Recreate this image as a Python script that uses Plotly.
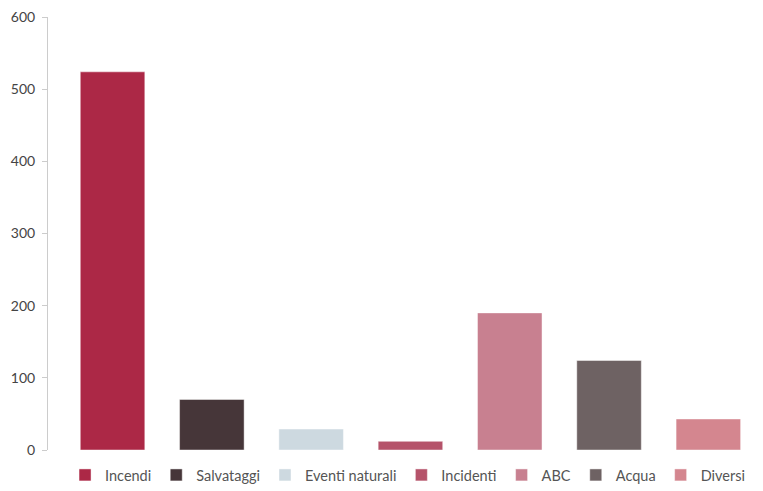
import plotly.graph_objects as go

categories = ["Incendi", "Salvataggi", "Eventi naturali", "Incidenti", "ABC", "Acqua", "Diversi"]
values = [524, 70, 29, 12, 190, 124, 43]
colors = ["#AC2846", "#463639", "#CDD9E0", "#B5536A", "#C88090", "#6E6263", "#D4868F"]
y_ticks = [0, 100, 200, 300, 400, 500, 600]

fig = go.Figure()
for cat, val, col in zip(categories, values, colors):
    fig.add_trace(go.Bar(
        x=[cat], y=[val], name=cat,
        marker=dict(color=col, line=dict(color="rgba(255,255,255,0.45)", width=1)),
        width=0.65,
    ))

# the page body adds an 8px offset, so the figure is 755x483 with compensated margins
fig.update_layout(
    width=755, height=483,
    margin=dict(l=40, r=5, t=9, b=41),
    plot_bgcolor="white", paper_bgcolor="white",
    barmode="overlay",
    font=dict(family="Lato, sans-serif", color="#444444", size=13),
    showlegend=True,
    legend=dict(orientation="h", x=0.024, xanchor="left",
                yref="container", y=0.0, yanchor="bottom",
                font=dict(size=14.5, color="#555555"), itemwidth=30,
                traceorder="normal"),
    xaxis=dict(showticklabels=False, showline=False, ticks="", range=[-0.65, 6.5],
               showgrid=False, zeroline=False, automargin=False),
    yaxis=dict(range=[0, 600], tickvals=y_ticks, showgrid=False, zeroline=False,
               automargin=False, ticklabeloverflow="allow",
               showline=True, linecolor="#cccccc", linewidth=1,
               ticks="outside", ticklen=5, tickcolor="#cccccc",
               ticklabelstandoff=4,
               tickfont=dict(size=14, color="#444444")),
)

fig.write_html("out.html")
